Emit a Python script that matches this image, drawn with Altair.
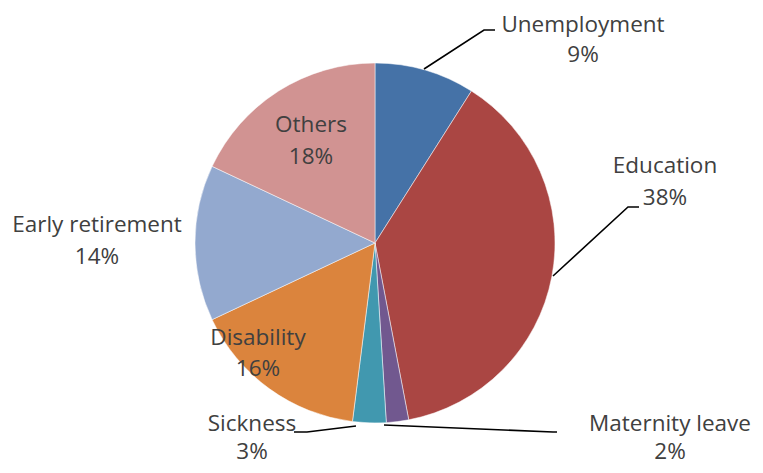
import altair as alt
import pandas as pd

# ---- data ----
categories = ["Unemployment", "Education", "Maternity leave", "Sickness",
              "Disability", "Early retirement", "Others"]
shares = [9, 38, 2, 3, 16, 14, 18]
colors = ["#4572A7", "#AA4643", "#71588F", "#4198AF", "#DB843D", "#93A9CF", "#D19392"]

# ---- layout (page pixels) ----
W, H = 747, 457
OFF = 8
CX, CY, R = 375, 243, 180
# (x centre, y of name line, y of percent line)
label_pos = {
    "Unemployment": (583, 25, 55),
    "Education": (665, 166, 198),
    "Maternity leave": (670, 424, 452),
    "Sickness": (252, 424, 452),
    "Disability": (258, 338, 369),
    "Early retirement": (97, 225, 257),
    "Others": (311, 125, 157),
}
leaders = {
    "Unemployment": [(424, 69), (484, 30), (495, 30)],
    "Education": [(553, 276), (628, 207), (639, 207)],
    "Maternity leave": [(384, 425), (553, 432), (557, 432)],
    "Sickness": [(356, 426), (307, 432), (294, 432)],
}

pie_df = pd.DataFrame({"cat": categories, "share": shares, "idx": range(len(categories))})

lab_rows = []
for c, s in zip(categories, shares):
    x, y1, y2 = label_pos[c]
    lab_rows.append({"text": c, "lx": x - OFF, "ly": y1 - OFF})
    lab_rows.append({"text": f"{s}%", "lx": x - OFF, "ly": y2 - OFF})
lab_df = pd.DataFrame(lab_rows)

rows = []
for c, pts in leaders.items():
    for i, (px, py) in enumerate(pts):
        rows.append({"cat": c, "i": i, "px": px - OFF, "py": py - OFF})
line_df = pd.DataFrame(rows)

xs = alt.Scale(domain=[0, W], range=[0, W])
ys = alt.Scale(domain=[0, H], range=[0, H])

pie = alt.Chart(pie_df).mark_arc(outerRadius=R, stroke="white", strokeWidth=0.5).encode(
    theta=alt.Theta("share:Q", stack=True),
    order=alt.Order("idx:Q"),
    color=alt.Color("cat:N", scale=alt.Scale(domain=categories, range=colors), legend=None),
    x=alt.value(CX - OFF),
    y=alt.value(CY - OFF),
)

lines = alt.Chart(line_df).mark_line(color="black", strokeWidth=1.6).encode(
    x=alt.X("px:Q", scale=xs, axis=None),
    y=alt.Y("py:Q", scale=ys, axis=None),
    detail="cat:N",
    order="i:Q",
)

labels = alt.Chart(lab_df).mark_text(
    font="Open Sans", fontSize=22.5, color="#404040",
    align="center", baseline="middle"
).encode(
    x=alt.X("lx:Q", scale=xs, axis=None),
    y=alt.Y("ly:Q", scale=ys, axis=None),
    text="text:N",
)

chart = alt.layer(pie, lines, labels).properties(
    width=W, height=H, padding=0, autosize=alt.AutoSizeParams(type="none")
).configure(background="white").configure_view(stroke=None, strokeWidth=0)

chart.save("out.html", embed_options={"renderer": "svg", "actions": False})
